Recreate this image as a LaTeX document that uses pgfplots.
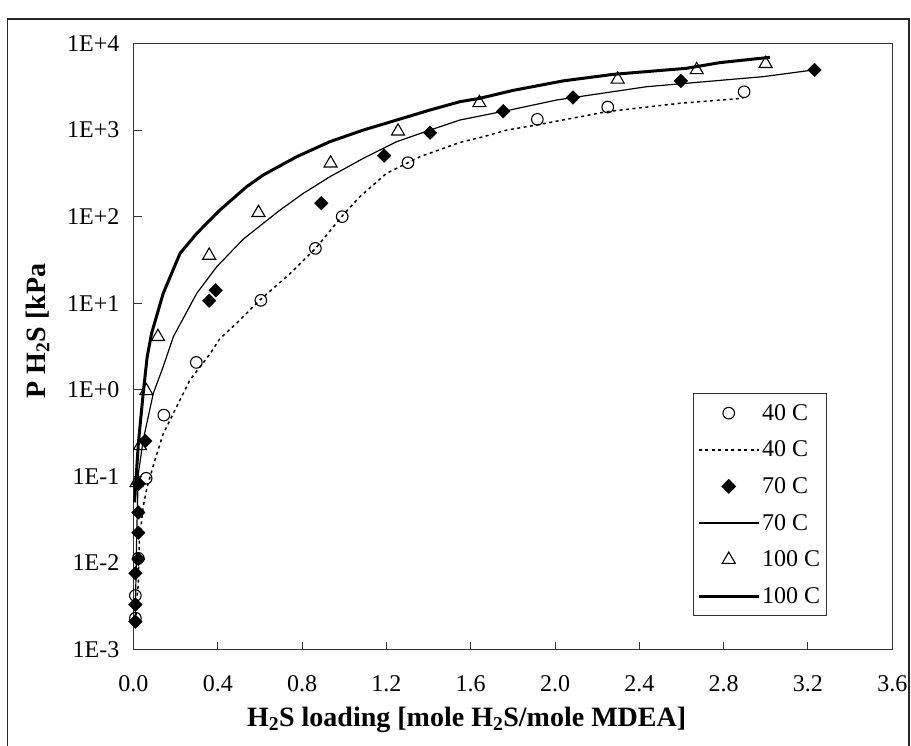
\documentclass[border=0pt]{standalone}
\usepackage{fontspec}
\setmainfont{Liberation Serif}
\usepackage{pgfplots}
\pgfplotsset{compat=1.18}
\usetikzlibrary{plotmarks}

\begin{document}
\begin{tikzpicture}
\useasboundingbox (0pt,0pt) rectangle (911pt,746pt);
\draw[line width=1.2pt, black!85] (7.5pt,-30pt) rectangle (909pt,727pt);
\begin{axis}[
  at={(133.5pt,96.5pt)}, anchor=south west,
  scale only axis, width=758.8pt, height=606pt,
  xmin=0, xmax=3.6, ymin=1e-3, ymax=1e4,
  ymode=log, yminorticks=false,
  xtick={0,0.4,...,3.61},
  ytick={1e-3,1e-2,1e-1,1,10,100,1000,10000},
  yticklabels={1E-3,1E-2,1E-1,1E+0,1E+1,1E+2,1E+3,1E+4},
  xticklabel style={/pgf/number format/fixed, /pgf/number format/fixed zerofill,
    /pgf/number format/precision=1, /pgf/number format/assume math mode=true, yshift=-26pt},
  tick label style={font=\fontsize{24}{24}\selectfont, inner sep=0pt},
  yticklabel style={xshift=-14pt},
  tickpos=left, tick align=inside, major tick length=8pt,
  axis line style={line width=1.2pt, black!80},
  tick style={line width=1pt, black!80},
  xlabel={H\textsubscript{2}S loading [mole H\textsubscript{2}S/mole MDEA]},
  ylabel={P H\textsubscript{2}S [kPa},
  label style={font=\bfseries\fontsize{28}{28}\selectfont},
  xlabel style={at={(axis description cs:0.439,-0.116)}, anchor=center},
  ylabel style={at={(axis description cs:-0.1265,0.5256)}, anchor=center},
  clip=false,
  legend image code/.code={\draw[mark repeat=2,mark phase=2,#1] plot coordinates {(0pt,0pt) (30pt,0pt) (60pt,0pt)};},
  legend style={at={(axis description cs:0.737,0.423)}, anchor=north west,
    draw=black!80, line width=1pt, font=\fontsize{24}{24}\selectfont,
    inner xsep=4pt, inner ysep=3pt, row sep=3.6pt,
    nodes={inner sep=2pt, minimum height=33pt}},
  legend cell align=left,
]
% 40 C data
\addplot[only marks, mark=o, mark size=5.8pt, mark options={line width=1.1pt, fill=white}] coordinates {
(0.009,0.0023) (0.009,0.0042) (0.023,0.0113) (0.06,0.095) (0.144,0.51) (0.298,2.07)
(0.604,10.8) (0.863,43) (0.99,100) (1.302,420) (1.916,1330) (2.25,1845) (2.897,2770)};
\addlegendentry{40 C}
% 40 C model
\addplot[line width=1.5pt, dash pattern=on 3pt off 3.5pt, mark=none] coordinates {
(0.010,0.0021) (0.015,0.0035) (0.023,0.0058) (0.028,0.018) (0.046,0.045) (0.065,0.076)
(0.102,0.155) (0.141,0.31) (0.205,0.64) (0.268,1.3) (0.363,2.6) (0.41,3.9) (0.49,5.9)
(0.6,10.9) (0.743,22) (0.864,43) (0.995,105) (1.074,170) (1.2,316) (1.359,492)
(1.549,720) (1.66,838) (1.77,998) (1.913,1145) (2.245,1630) (2.593,2040) (2.893,2330)};
\addlegendentry{40 C}
% 70 C data
\addplot[only marks, mark=square*, mark size=4.8pt, mark options={rotate=45, fill=black}] coordinates {
(0.009,0.0021) (0.009,0.0033) (0.009,0.0076) (0.023,0.0111) (0.023,0.0223) (0.023,0.0383)
(0.025,0.082) (0.056,0.256) (0.359,10.7) (0.39,14.1) (0.891,143) (1.189,507) (1.407,933)
(1.754,1650) (2.085,2380) (2.597,3700) (3.231,4950)};
\addlegendentry{70 C}
% 70 C model
\addplot[line width=1.2pt, mark=none] coordinates {
(0.008,0.002) (0.015,0.02) (0.02,0.06) (0.023,0.108) (0.046,0.263) (0.094,0.91) (0.141,1.85)
(0.189,4.1) (0.3,13) (0.395,26.4) (0.521,55) (0.695,119) (0.806,186) (0.932,289) (1.09,471)
(1.249,735) (1.407,1000) (1.549,1306) (1.644,1455) (1.786,1706) (2.008,2225) (2.435,3170)
(2.988,4140) (3.225,4940)};
\addlegendentry{70 C}
% 100 C data
\addplot[only marks, mark=triangle, mark size=7.5pt, mark options={line width=1.1pt, fill=white}] coordinates {
(0.014,0.084) (0.031,0.225) (0.061,0.97) (0.116,4.1) (0.359,35.6) (0.593,111) (0.935,414)
(1.255,968) (1.641,2065) (2.297,3850) (2.672,4950) (2.999,5840)};
\addlegendentry{100 C}
% 100 C model
\addplot[line width=3pt, mark=none] coordinates {
(0.005,0.05) (0.023,0.24) (0.046,0.91) (0.065,2.41) (0.086,4.5) (0.141,13) (0.221,37.7)
(0.3,64) (0.41,119) (0.537,222) (0.616,303) (0.774,492) (0.932,735) (1.09,1000) (1.249,1306)
(1.407,1706) (1.549,2128) (1.644,2330) (1.80,2870) (2.039,3700) (2.276,4400) (2.624,5170)
(2.782,6010) (3.019,6920)};
\addlegendentry{100 C}
\end{axis}
\end{tikzpicture}
\end{document}
